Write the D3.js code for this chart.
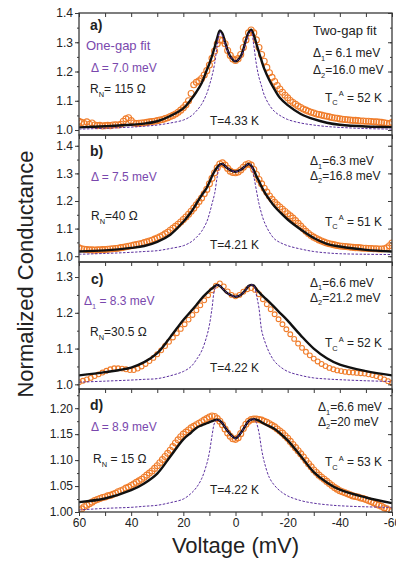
<!DOCTYPE html>
<html>
<head>
<meta charset="utf-8">
<script src="https://cdn.jsdelivr.net/npm/d3@7"></script>
<style>
	body { margin: 0; background: #ffffff; }
	svg { display: block; font-family: "Liberation Sans", Arial, Helvetica, sans-serif; }
</style>
</head>
<body>
<div id="div_id_main"></div>
<script>

// ---------------------------------------------------------------
// data

var vVoltage_Fit = [60, 50, 40, 35, 30, 25, 20, 17, 15, 13,
					11, 10, 9, 8, 7, 6, 5, 4, 2, 0,
					-2, -4, -5, -6, -7, -8, -9, -10, -11, -13,
					-15, -17, -20, -25, -30, -35, -40, -50, -60];

// two-gap fit (black)
var vFit2_A = [1.009, 1.013, 1.018, 1.022, 1.030, 1.048, 1.074, 1.105, 1.130, 1.160,
			   1.205, 1.227, 1.253, 1.283, 1.315, 1.340, 1.330, 1.300, 1.252, 1.235,
			   1.252, 1.308, 1.333, 1.343, 1.325, 1.295, 1.265, 1.237, 1.210, 1.170,
			   1.138, 1.110, 1.085, 1.055, 1.037, 1.025, 1.018, 1.012, 1.010];
var vFit2_B = [1.017, 1.021, 1.030, 1.037, 1.052, 1.078, 1.125, 1.160, 1.190, 1.220,
			   1.248, 1.268, 1.290, 1.308, 1.322, 1.332, 1.334, 1.326, 1.312, 1.306,
			   1.313, 1.328, 1.334, 1.328, 1.312, 1.290, 1.272, 1.252, 1.234, 1.205,
			   1.180, 1.160, 1.133, 1.097, 1.066, 1.045, 1.035, 1.023, 1.017];
var vFit2_C = [1.025, 1.034, 1.047, 1.062, 1.087, 1.132, 1.180, 1.205, 1.222, 1.240,
			   1.255, 1.262, 1.268, 1.274, 1.278, 1.275, 1.268, 1.260, 1.250, 1.245,
			   1.250, 1.265, 1.275, 1.278, 1.276, 1.266, 1.258, 1.250, 1.243, 1.230,
			   1.215, 1.200, 1.178, 1.137, 1.100, 1.073, 1.055, 1.037, 1.025];
var vFit2_D = [1.019, 1.026, 1.042, 1.055, 1.074, 1.107, 1.140, 1.153, 1.162, 1.167,
			   1.171, 1.173, 1.175, 1.177, 1.178, 1.176, 1.171, 1.163, 1.150, 1.142,
			   1.152, 1.168, 1.175, 1.178, 1.179, 1.178, 1.176, 1.173, 1.170, 1.165,
			   1.160, 1.152, 1.138, 1.108, 1.077, 1.057, 1.043, 1.028, 1.017];

// one-gap fit (purple dashed)
var vFit1_A = [1.003, 1.006, 1.010, 1.013, 1.017, 1.024, 1.034, 1.048, 1.065, 1.088,
			   1.125, 1.153, 1.185, 1.227, 1.290, 1.335, 1.322, 1.295, 1.252, 1.236,
			   1.250, 1.300, 1.328, 1.338, 1.290, 1.225, 1.180, 1.150, 1.120, 1.085,
			   1.063, 1.050, 1.036, 1.024, 1.017, 1.012, 1.009, 1.005, 1.003];
var vFit1_B = [1.007, 1.010, 1.014, 1.017, 1.020, 1.028, 1.038, 1.052, 1.068, 1.090,
			   1.125, 1.154, 1.190, 1.227, 1.288, 1.330, 1.334, 1.326, 1.312, 1.306,
			   1.313, 1.328, 1.334, 1.330, 1.290, 1.239, 1.190, 1.154, 1.125, 1.087,
			   1.062, 1.050, 1.038, 1.026, 1.017, 1.012, 1.009, 1.007, 1.006];
var vFit1_C = [1.006, 1.009, 1.012, 1.014, 1.016, 1.024, 1.036, 1.050, 1.069, 1.093,
			   1.135, 1.166, 1.213, 1.265, 1.278, 1.275, 1.268, 1.260, 1.250, 1.245,
			   1.250, 1.265, 1.275, 1.278, 1.276, 1.250, 1.213, 1.152, 1.125, 1.088,
			   1.064, 1.050, 1.036, 1.025, 1.018, 1.015, 1.013, 1.010, 1.008];
var vFit1_D = [1.004, 1.007, 1.009, 1.011, 1.013, 1.018, 1.025, 1.036, 1.047, 1.064,
			   1.093, 1.115, 1.147, 1.172, 1.178, 1.176, 1.171, 1.163, 1.150, 1.142,
			   1.152, 1.168, 1.175, 1.178, 1.179, 1.172, 1.153, 1.121, 1.097, 1.066,
			   1.051, 1.041, 1.031, 1.022, 1.017, 1.014, 1.012, 1.010, 1.009];

// measured conductance (orange circles), 60 mV down to -60 mV
var vData_Step = [1, 1, 1.5, 1];

var vData_A = [1.030, 1.026, 1.022, 1.028, 1.020, 1.024, 1.017, 1.015, 1.016, 1.014,
			   1.015, 1.016, 1.015, 1.017, 1.018, 1.017, 1.020, 1.030, 1.038, 1.042,
			   1.032, 1.024, 1.022, 1.023, 1.024, 1.025, 1.026, 1.028, 1.029, 1.030,
			   1.032, 1.034, 1.036, 1.039, 1.042, 1.046, 1.050, 1.055, 1.061, 1.068,
			   1.076, 1.086, 1.100, 1.125, 1.155, 1.163, 1.168, 1.176, 1.188, 1.203,
			   1.222, 1.245, 1.270, 1.295, 1.308, 1.306, 1.295, 1.272, 1.255, 1.243,
			   1.238, 1.244, 1.258, 1.282, 1.308, 1.332, 1.342, 1.332, 1.308, 1.282,
			   1.258, 1.235, 1.214, 1.196, 1.180, 1.166, 1.152, 1.140, 1.129, 1.119,
			   1.110, 1.101, 1.094, 1.088, 1.082, 1.077, 1.072, 1.068, 1.064, 1.061,
			   1.058, 1.055, 1.053, 1.051, 1.049, 1.047, 1.045, 1.043, 1.041, 1.040,
			   1.038, 1.037, 1.036, 1.035, 1.034, 1.033, 1.033, 1.032, 1.031, 1.031,
			   1.030, 1.030, 1.029, 1.028, 1.028, 1.027, 1.026, 1.025, 1.023, 1.022,
			   1.026];
var vData_B = [1.030, 1.027, 1.025, 1.024, 1.023, 1.023, 1.022, 1.023, 1.023, 1.024,
			   1.024, 1.025, 1.026, 1.027, 1.028, 1.029, 1.031, 1.032, 1.034, 1.036,
			   1.038, 1.040, 1.042, 1.044, 1.046, 1.049, 1.052, 1.055, 1.058, 1.062,
			   1.066, 1.070, 1.075, 1.081, 1.087, 1.094, 1.101, 1.108, 1.116, 1.124,
			   1.133, 1.142, 1.152, 1.163, 1.174, 1.186, 1.198, 1.211, 1.226, 1.242,
			   1.262, 1.282, 1.302, 1.320, 1.334, 1.338, 1.330, 1.318, 1.308, 1.303,
			   1.302, 1.305, 1.312, 1.322, 1.331, 1.335, 1.330, 1.314, 1.296, 1.278,
			   1.262, 1.246, 1.232, 1.218, 1.206, 1.195, 1.186, 1.178, 1.170, 1.162,
			   1.154, 1.146, 1.138, 1.129, 1.119, 1.109, 1.099, 1.090, 1.082, 1.075,
			   1.069, 1.064, 1.059, 1.055, 1.051, 1.048, 1.045, 1.043, 1.041, 1.039,
			   1.037, 1.036, 1.035, 1.034, 1.033, 1.032, 1.031, 1.031, 1.030, 1.029,
			   1.029, 1.028, 1.028, 1.027, 1.027, 1.026, 1.026, 1.027, 1.030, 1.038,
			   1.048];
var vData_C = [1.006, 1.010, 1.014, 1.018, 1.023, 1.028, 1.033, 1.038, 1.042, 1.045,
			   1.045, 1.044, 1.042, 1.040, 1.040, 1.044, 1.050, 1.057, 1.065, 1.074,
			   1.084, 1.095, 1.107, 1.119, 1.131, 1.143, 1.155, 1.168, 1.181, 1.194,
			   1.207, 1.221, 1.235, 1.249, 1.263, 1.276, 1.282, 1.274, 1.260, 1.250,
			   1.246, 1.250, 1.259, 1.266, 1.269, 1.264, 1.252, 1.238, 1.224, 1.210,
			   1.196, 1.182, 1.168, 1.154, 1.140, 1.127, 1.114, 1.102, 1.091, 1.081,
			   1.072, 1.064, 1.057, 1.051, 1.046, 1.042, 1.039, 1.037, 1.035, 1.034,
			   1.033, 1.032, 1.031, 1.030, 1.028, 1.026, 1.023, 1.019, 1.014, 1.009,
			   1.004];
var vData_D = [1.003, 1.006, 1.010, 1.013, 1.016, 1.019, 1.022, 1.024, 1.026, 1.028,
			   1.029, 1.031, 1.032, 1.034, 1.036, 1.039, 1.041, 1.043, 1.046, 1.048,
			   1.051, 1.054, 1.057, 1.060, 1.063, 1.067, 1.071, 1.075, 1.079, 1.084,
			   1.089, 1.095, 1.101, 1.107, 1.113, 1.119, 1.126, 1.133, 1.139, 1.145,
			   1.150, 1.154, 1.158, 1.162, 1.165, 1.168, 1.171, 1.174, 1.177, 1.180,
			   1.183, 1.185, 1.184, 1.180, 1.175, 1.168, 1.160, 1.152, 1.146, 1.141,
			   1.140, 1.143, 1.151, 1.161, 1.169, 1.175, 1.178, 1.179, 1.179, 1.178,
			   1.177, 1.175, 1.173, 1.170, 1.167, 1.164, 1.160, 1.156, 1.152, 1.147,
			   1.142, 1.136, 1.130, 1.124, 1.118, 1.112, 1.106, 1.099, 1.093, 1.087,
			   1.081, 1.076, 1.071, 1.067, 1.063, 1.059, 1.055, 1.051, 1.047, 1.044,
			   1.041, 1.039, 1.037, 1.035, 1.033, 1.031, 1.030, 1.029, 1.027, 1.026,
			   1.024, 1.022, 1.020, 1.018, 1.015, 1.013, 1.011, 1.008, 1.006, 1.003,
			   1.001];

// axes
var vYExtent = [[0.983, 1.4], [0.979, 1.439], [0.987, 1.342], [1.0, 1.237]];
var vYTicks = [[1.0, 1.1, 1.2, 1.3, 1.4],
			   [1.0, 1.1, 1.2, 1.3, 1.4],
			   [1.0, 1.1, 1.2, 1.3],
			   [1.00, 1.05, 1.10, 1.15, 1.20]];
var vYTickStep = [0.1, 0.1, 0.1, 0.05];
var vsYFormat = [".1f", ".1f", ".1f", ".2f"];
var vXTicks = [60, 40, 20, 0, -20, -40, -60];
var vXTicks_Minor = [60, 50, 40, 30, 20, 10, 0, -10, -20, -30, -40, -50, -60];

// annotation texts
var vsPanelName = ["a)", "b)", "c)", "d)"];
var vsTemperature = ["T=4.33 K", "T=4.21 K", "T=4.22 K", "T=4.22 K"];
var vsOneGap_Sub = ["", "", "1", ""];
var vsOneGap_Value = [" = 7.0 meV", " = 7.5 meV", " = 8.3 meV", " = 8.9 meV"];
var vsRN_Value = ["=  115 \u03A9", "=40 \u03A9", "=30.5 \u03A9", " = 15 \u03A9"];
var vsDelta1_Value = ["= 6.1 meV", "=6.3 meV", "=6.6 meV", "=6.6 meV"];
var vsDelta2_Value = ["=16.0 meV", "=16.8 meV", "=21.2 meV", "=20 meV"];
var vsTcA_Value = [" = 52 K", " = 51 K", " = 52 K", " = 53 K"];

// ---------------------------------------------------------------
// layout

var SVG_WIDTH = 396;
var SVG_HEIGHT = 561;
var PLOT_LEFT = 79;
var PLOT_RIGHT = 392;
var vPanel_Top = [13, 135, 262, 389];
var vPanel_Bottom = [135, 262, 389, 512];
var vData_Radius = [3, 3, 2.4, 3];

var COLOR_DATA = "#f07d2b";
var COLOR_FIT2 = "#111111";
var COLOR_FIT1 = "#5b2f9e";
var COLOR_FIT1_TEXT = "#7a48ad";
var COLOR_AXIS = "#3a3a3a";
var COLOR_TEXT = "#222222";

// text positions per panel: [x, baseline]
var vPos_Name = [[90, 30], [90, 156], [91, 284], [90, 410]];
var vPos_OneGapTitle = [[86, 49.5], null, null, null];
var vPos_OneGap = [[91, 71.5], [91, 180.5], [84, 305], [91, 431]];
var vPos_RN = [[90, 93], [91, 220], [90, 336], [93, 463]];
var vPos_TwoGapTitle = [[313, 35], null, null, null];
var vPos_Delta1 = [[313, 57], [310, 165], [310, 286.5], [318, 411]];
var vPos_Delta2 = [[313, 74], [310, 179.5], [310, 301.5], [318, 425.5]];
var vPos_TcA = [[325, 101.5], [325, 225.5], [325, 347], [325, 466]];
var vPos_Temp = [[210, 125], [210, 249], [210, 371.5], [210, 493.5]];

var fScale_X;

// ---------------------------------------------------------------

function funcDraw_Main() {

	let svgMain = d3.select("#div_id_main")
					.append("svg")
						.attr("id", "svg_id_main")
						.attr("width", SVG_WIDTH)
						.attr("height", SVG_HEIGHT);

	fScale_X = d3.scaleLinear()
					.domain([60, -60])
					.range([PLOT_LEFT, PLOT_RIGHT]);

	let vvData = [vData_A, vData_B, vData_C, vData_D];
	let vvFit2 = [vFit2_A, vFit2_B, vFit2_C, vFit2_D];
	let vvFit1 = [vFit1_A, vFit1_B, vFit1_C, vFit1_D];

	for (let nPanel = 0; nPanel < 4; nPanel++) {

		funcDraw_Panel(svgMain, nPanel, vvData[nPanel], vvFit2[nPanel], vvFit1[nPanel]);
	}

	funcDraw_AxisTitles(svgMain);
}

function funcDraw_Panel(svgMain, nPanel, vData, vFit2, vFit1) {

	let nTop = vPanel_Top[nPanel];
	let nBottom = vPanel_Bottom[nPanel];

	let fScale_Y = d3.scaleLinear()
						.domain(vYExtent[nPanel])
						.range([nBottom, nTop]);

	let gPanel = svgMain.append("g")
						.attr("id", "g_id_panel_" + nPanel);

	gPanel.append("clipPath")
			.attr("id", "clip_id_panel_" + nPanel)
			.append("rect")
				.attr("x", PLOT_LEFT)
				.attr("y", nTop)
				.attr("width", PLOT_RIGHT - PLOT_LEFT)
				.attr("height", nBottom - nTop);

	let gPlot = gPanel.append("g")
						.attr("clip-path", "url(#clip_id_panel_" + nPanel + ")");

	// ---------------------------------------------------------------
	// measured points

	let vVoltage = d3.range(60, -60.001, -vData_Step[nPanel]);

	gPlot.selectAll("circle.circle_class_data")
			.data(vData)
			.enter()
			.append("circle")
				.attr("class", "circle_class_data")
				.attr("cx", function (d, i) { return fScale_X(vVoltage[i]); })
				.attr("cy", function (d) { return fScale_Y(d); })
				.attr("r", vData_Radius[nPanel])
				.attr("fill", "none")
				.attr("stroke", COLOR_DATA)
				.attr("stroke-width", 1.1);

	// ---------------------------------------------------------------
	// fits

	let lineFit = d3.line()
					.x(function (d, i) { return fScale_X(vVoltage_Fit[i]); })
					.y(function (d) { return fScale_Y(d); })
					.curve(d3.curveCatmullRom.alpha(0.5));

	gPlot.append("path")
			.attr("d", lineFit(vFit2))
			.attr("fill", "none")
			.attr("stroke", COLOR_FIT2)
			.attr("stroke-width", 2.4);

	gPlot.append("path")
			.attr("d", lineFit(vFit1))
			.attr("fill", "none")
			.attr("stroke", COLOR_FIT1)
			.attr("stroke-width", 1)
			.attr("stroke-dasharray", "2.5,1.5");

	// ---------------------------------------------------------------
	// axes

	let vYMinor = [];
	let fStep = vYTickStep[nPanel] / 2;

	for (let f = vYTicks[nPanel][0] - fStep; f <= vYExtent[nPanel][1] + 1e-9; f += fStep) {

		if (f >= vYExtent[nPanel][0])
			vYMinor.push(f);
	}

	let gLeft = gPanel.append("g")
						.attr("transform", "translate(" + PLOT_LEFT + ",0)")
						.call(d3.axisLeft(fScale_Y)
								.tickValues(vYTicks[nPanel])
								.tickSize(4)
								.tickPadding(2)
								.tickFormat(d3.format(vsYFormat[nPanel])));

	let gLeftMinor = gPanel.append("g")
						.attr("transform", "translate(" + PLOT_LEFT + ",0)")
						.call(d3.axisLeft(fScale_Y)
								.tickValues(vYMinor)
								.tickSize(2)
								.tickFormat(""));

	let gRight = gPanel.append("g")
						.attr("transform", "translate(" + PLOT_RIGHT + ",0)")
						.call(d3.axisLeft(fScale_Y)
								.tickValues(vYTicks[nPanel])
								.tickSize(4)
								.tickFormat(""));

	let gRightMinor = gPanel.append("g")
						.attr("transform", "translate(" + PLOT_RIGHT + ",0)")
						.call(d3.axisLeft(fScale_Y)
								.tickValues(vYMinor)
								.tickSize(2)
								.tickFormat(""));

	let gTop = gPanel.append("g")
						.attr("transform", "translate(0," + nTop + ")")
						.call(d3.axisBottom(fScale_X)
								.tickValues(vXTicks_Minor)
								.tickSize(4)
								.tickFormat(""));

	let vgAxes = [gLeft, gLeftMinor, gRight, gRightMinor, gTop];

	if (nPanel == 3) {

		let gBottom = gPanel.append("g")
							.attr("transform", "translate(0," + nBottom + ")")
							.call(d3.axisBottom(fScale_X)
									.tickValues(vXTicks_Minor)
									.tickSize(4)
									.tickPadding(2)
									.tickFormat(function (d) { return (vXTicks.indexOf(d) >= 0) ? String(d) : ""; }));

		vgAxes.push(gBottom);
	}

	for (let i = 0; i < vgAxes.length; i++) {

		vgAxes[i].select(".domain").remove();
		vgAxes[i].selectAll("line")
					.attr("stroke", COLOR_AXIS)
					.attr("stroke-width", 1);
		vgAxes[i].selectAll("text")
					.attr("fill", COLOR_TEXT)
					.attr("font-size", "12px")
					.attr("font-family", "Liberation Sans, Arial, sans-serif");
	}

	gPanel.append("rect")
			.attr("x", PLOT_LEFT)
			.attr("y", nTop)
			.attr("width", PLOT_RIGHT - PLOT_LEFT)
			.attr("height", nBottom - nTop)
			.attr("fill", "none")
			.attr("stroke", COLOR_AXIS)
			.attr("stroke-width", 1.3);

	// ---------------------------------------------------------------
	// annotations

	funcDraw_Annotations(gPanel, nPanel);
}

function funcDraw_RichText(g, vPos, sMain, sSub, sSup, sRest, sColor, nSize) {

	let nSmall = nSize * 0.62;
	let nOffset = 0;

	let text = g.append("text")
				.attr("x", vPos[0])
				.attr("y", vPos[1])
				.attr("fill", sColor)
				.attr("font-size", nSize + "px");

	text.append("tspan").text(sMain);

	if (sSub != "") {

		let nDown = nSize * 0.32;

		text.append("tspan")
				.attr("dy", nDown)
				.attr("font-size", nSmall + "px")
				.text(sSub);

		nOffset += nDown;
	}

	if (sSup != "") {

		let nUp = -nOffset - nSize * 0.42;

		text.append("tspan")
				.attr("dy", nUp)
				.attr("dx", 1)
				.attr("font-size", nSmall + "px")
				.text(sSup);

		nOffset += nUp;
	}

	text.append("tspan")
			.attr("dy", -nOffset)
			.text(sRest);

	return text;
}

function funcDraw_Annotations(gPanel, nPanel) {

	gPanel.append("text")
			.attr("x", vPos_Name[nPanel][0])
			.attr("y", vPos_Name[nPanel][1])
			.attr("fill", COLOR_TEXT)
			.attr("font-size", "14px")
			.attr("font-weight", "bold")
			.text(vsPanelName[nPanel]);

	if (vPos_OneGapTitle[nPanel] != null)
		funcDraw_RichText(gPanel, vPos_OneGapTitle[nPanel], "One-gap fit", "", "", "", COLOR_FIT1_TEXT, 13);

	if (vPos_TwoGapTitle[nPanel] != null)
		funcDraw_RichText(gPanel, vPos_TwoGapTitle[nPanel], "Two-gap fit", "", "", "", COLOR_TEXT, 13);

	funcDraw_RichText(gPanel, vPos_OneGap[nPanel], "\u0394", vsOneGap_Sub[nPanel], "", vsOneGap_Value[nPanel], COLOR_FIT1_TEXT, 12);
	funcDraw_RichText(gPanel, vPos_RN[nPanel], "R", "N", "", vsRN_Value[nPanel], COLOR_TEXT, 12);
	funcDraw_RichText(gPanel, vPos_Delta1[nPanel], "\u0394", "1", "", vsDelta1_Value[nPanel], COLOR_TEXT, 12);
	funcDraw_RichText(gPanel, vPos_Delta2[nPanel], "\u0394", "2", "", vsDelta2_Value[nPanel], COLOR_TEXT, 12);
	funcDraw_RichText(gPanel, vPos_TcA[nPanel], "T", "C", "A", vsTcA_Value[nPanel], COLOR_TEXT, 12);
	funcDraw_RichText(gPanel, vPos_Temp[nPanel], vsTemperature[nPanel], "", "", "", COLOR_TEXT, 12);
}

function funcDraw_AxisTitles(svgMain) {

	svgMain.append("text")
			.attr("transform", "translate(33,274) rotate(-90)")
			.attr("text-anchor", "middle")
			.attr("fill", COLOR_TEXT)
			.attr("font-size", "22px")
			.text("Normalized Conductance");

	svgMain.append("text")
			.attr("x", (PLOT_LEFT + PLOT_RIGHT) / 2)
			.attr("y", 553)
			.attr("text-anchor", "middle")
			.attr("fill", COLOR_TEXT)
			.attr("font-size", "22px")
			.text("Voltage (mV)");
}

funcDraw_Main();

</script>
</body>
</html>
